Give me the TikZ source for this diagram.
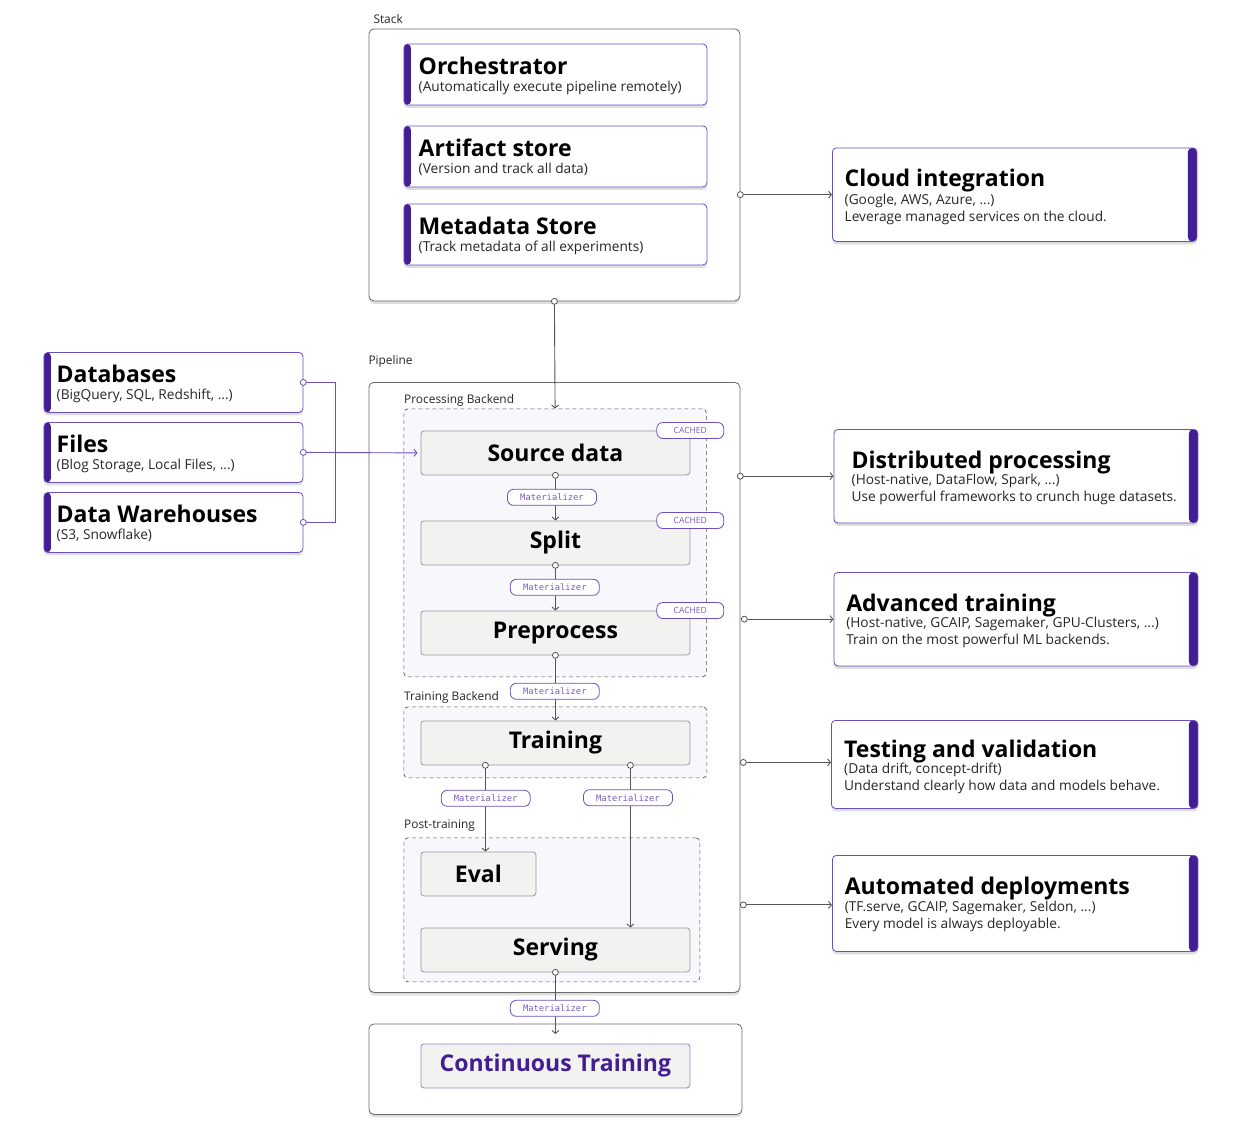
\documentclass[tikz,border=0pt]{standalone}
\usepackage{fontspec}
\setmainfont{Open Sans}
\newfontfamily\monof{DejaVu Sans Mono}
\usetikzlibrary{arrows.meta,shadows}
\definecolor{barc}{HTML}{431D93}
\definecolor{bordc}{HTML}{6B4FBF}
\definecolor{tagc}{HTML}{7A5CC0}
\definecolor{linec}{HTML}{555555}
\definecolor{stepfill}{HTML}{F2F2F1}
\definecolor{stepdraw}{HTML}{9A9A9A}
\definecolor{groupfill}{HTML}{F8F8FC}
\definecolor{outerc}{HTML}{6A6A6A}
\tikzset{
 shad/.style={drop shadow={shadow xshift=0pt,shadow yshift=-3pt,opacity=0.13,fill=black}},
 lcard/.style={draw=bordc, line width=0.8pt, fill=white, rounded corners=4pt, anchor=north west, inner sep=0pt, shad,
   path picture={\fill[barc] (path picture bounding box.north west) rectangle ([xshift=7pt]path picture bounding box.south west);}},
 rcard/.style={draw=bordc, line width=0.8pt, fill=white, rounded corners=4pt, anchor=north west, inner sep=0pt, shad,
   path picture={\fill[barc] ([xshift=-9pt]path picture bounding box.north east) rectangle (path picture bounding box.south east);}},
 outerbox/.style={draw=outerc, line width=0.8pt, fill=white, rounded corners=5pt, anchor=north west, inner sep=0pt, shad},
 group/.style={draw=linec, line width=0.7pt, dash pattern=on 4pt off 3pt, fill=groupfill, rounded corners=4pt, anchor=north west, inner sep=0pt},
 stepbox/.style={draw=stepdraw, line width=0.8pt, fill=stepfill, rounded corners=3pt, anchor=north west, inner sep=0pt, minimum height=44pt,
   font=\fontsize{23}{23}\selectfont\bfseries},
 pill/.style={draw=bordc, line width=0.8pt, fill=white, rounded corners=6pt, inner sep=0pt, minimum width=89pt, minimum height=16pt,
   font=\monof\fontsize{8.8}{9}\selectfont, text=tagc},
 tag/.style={pill, minimum width=67pt, font=\fontsize{8.5}{9}\selectfont},
 conn/.style={draw=linec, line width=0.9pt, -{Straight Barb[length=3pt,width=7pt]}},
 pconn/.style={draw=bordc, line width=0.9pt},
 dot/.style={circle, draw=linec, fill=white, inner sep=0pt, minimum size=6pt, line width=0.8pt},
 pdot/.style={dot, draw=bordc},
 grplabel/.style={anchor=base west, inner sep=0pt, font=\fontsize{11.9}{12}\selectfont, text=black!85},
 ttl/.style={anchor=base west, inner sep=0pt, font=\fontsize{23}{23}\selectfont\bfseries},
 sub/.style={anchor=base west, inner sep=0pt, font=\fontsize{13.7}{14}\selectfont, text=black!85},
}
\begin{document}
\begin{tikzpicture}[x=1pt,y=-1pt]
\useasboundingbox[fill=white] (0,0) rectangle (1241,1138);

% ---------- Stack ----------
\node[grplabel] (stacklbl) at (373.3,23.3) {Stack};
\node[outerbox, minimum width=371pt, minimum height=272pt] (stack) at (368.5,28.5) {};
\node[lcard, minimum width=303pt, minimum height=61pt] (orch) at (403.5,43.5) {};
\node[ttl] (orcht) at ([xshift=15pt,yshift=-30.5pt]orch.north west) {Orchestrator};
\node[sub] (orchs) at ([xshift=15pt,yshift=-47.5pt]orch.north west) {(Automatically execute pipeline remotely)};
\node[lcard, minimum width=303pt, minimum height=61pt] (art) at (403.5,125.5) {};
\node[ttl] (artt) at ([xshift=15pt,yshift=-30.5pt]art.north west) {Artifact store};
\node[sub] (arts) at ([xshift=15pt,yshift=-47.5pt]art.north west) {(Version and track all data)};
\node[lcard, minimum width=303pt, minimum height=61pt] (meta) at (403.5,203.5) {};
\node[ttl] (metat) at ([xshift=15pt,yshift=-30.5pt]meta.north west) {Metadata Store};
\node[sub] (metas) at ([xshift=15pt,yshift=-47.5pt]meta.north west) {(Track metadata of all experiments)};

% ---------- Left sources ----------
\node[lcard, minimum width=259pt, minimum height=60pt] (db) at (43.5,352) {};
\node[ttl] (dbt) at ([xshift=13pt,yshift=-30.5pt]db.north west) {Databases};
\node[sub] (dbs) at ([xshift=13pt,yshift=-47.5pt]db.north west) {(BigQuery, SQL, Redshift, ...)};
\node[lcard, minimum width=259pt, minimum height=60pt] (files) at (43.5,422) {};
\node[ttl] (filest) at ([xshift=13pt,yshift=-30.5pt]files.north west) {Files};
\node[sub] (filess) at ([xshift=13pt,yshift=-47.5pt]files.north west) {(Blog Storage, Local Files, ...)};
\node[lcard, minimum width=259pt, minimum height=60pt] (dw) at (43.5,492) {};
\node[ttl] (dwt) at ([xshift=13pt,yshift=-30.5pt]dw.north west) {Data Warehouses};
\node[sub] (dws) at ([xshift=13pt,yshift=-47.5pt]dw.north west) {(S3, Snowflake)};

% ---------- Pipeline ----------
\node[grplabel] (pipelbl) at (368.3,364.3) {Pipeline};
\node[outerbox, minimum width=371pt, minimum height=610pt] (pipe) at (368.5,382) {};
\node[group, minimum width=302.5pt, minimum height=268pt] (procg) at (403.5,408.5) {};
\node[grplabel] (proclbl) at ([xshift=0.5pt,yshift=5pt]procg.north west) {Processing Backend};
\node[group, minimum width=303pt, minimum height=71pt] (traing) at (403.5,706.5) {};
\node[grplabel] (trainlbl) at ([xshift=0.5pt,yshift=6.5pt]traing.north west) {Training Backend};
\node[group, minimum width=296pt, minimum height=144pt] (postg) at (403.5,837.5) {};
\node[grplabel] (postlbl) at ([xshift=0.5pt,yshift=9.2pt]postg.north west) {Post-training};

\node[stepbox, minimum width=269pt] (src) at (420.5,430.5) {Source data};
\node[stepbox, minimum width=269pt] (split) at (420.5,520.5) {Split};
\node[stepbox, minimum width=269pt] (pre) at (420.5,610.5) {Preprocess};
\node[stepbox, minimum width=269pt] (train) at (420.5,720.5) {Training};
\node[stepbox, minimum width=115pt] (eval) at (420.5,851.5) {Eval};
\node[stepbox, minimum width=269pt] (serv) at (420.5,927.5) {Serving};

% ---------- Continuous training ----------
\node[outerbox, minimum width=373pt, minimum height=90.5pt] (ct) at (368.5,1023.5) {};
\node[stepbox, draw=bordc!70, text=barc, minimum width=269pt] (cti) at (420.5,1043.5) {Continuous Training};

% ---------- Right cards ----------
\node[rcard, minimum width=364.5pt, minimum height=93.5pt] (cloud) at (832,147.5) {};
\node[ttl] (cloudt) at ([xshift=12.5pt,yshift=-39pt]cloud.north west) {Cloud integration};
\node[sub] (clouds1) at ([xshift=12.5pt,yshift=-56.5pt]cloud.north west) {(Google, AWS, Azure, ...)};
\node[sub] (clouds2) at ([xshift=12.5pt,yshift=-73.5pt]cloud.north west) {Leverage managed services on the cloud.};

\node[rcard, minimum width=364pt, minimum height=93.5pt] (dist) at (833.5,429) {};
\node[ttl] (distt) at ([xshift=18pt,yshift=-39pt]dist.north west) {Distributed processing};
\node[sub] (dists1) at ([xshift=18pt,yshift=-55.5pt]dist.north west) {(Host-native, DataFlow, Spark, ...)};
\node[sub] (dists2) at ([xshift=18pt,yshift=-72.5pt]dist.north west) {Use powerful frameworks to crunch huge datasets.};

\node[rcard, minimum width=364pt, minimum height=93.5pt] (adv) at (833.5,572) {};
\node[ttl] (advt) at ([xshift=12.6pt,yshift=-39pt]adv.north west) {Advanced training};
\node[sub] (advs1) at ([xshift=12.6pt,yshift=-55.5pt]adv.north west) {(Host-native, GCAIP, Sagemaker, GPU-Clusters, ...)};
\node[sub] (advs2) at ([xshift=12.6pt,yshift=-72pt]adv.north west) {Train on the most powerful ML backends.};

\node[rcard, minimum width=366.5pt, minimum height=88pt] (test) at (831,720) {};
\node[ttl] (testt) at ([xshift=13pt,yshift=-37pt]test.north west) {Testing and validation};
\node[sub] (tests1) at ([xshift=13pt,yshift=-53.5pt]test.north west) {(Data drift, concept-drift)};
\node[sub] (tests2) at ([xshift=13pt,yshift=-70pt]test.north west) {Understand clearly how data and models behave.};

\node[rcard, minimum width=365.5pt, minimum height=96pt] (auto) at (832,855) {};
\node[ttl] (autot) at ([xshift=12.6pt,yshift=-39.3pt]auto.north west) {Automated deployments};
\node[sub] (autos1) at ([xshift=12.6pt,yshift=-56.7pt]auto.north west) {(TF.serve, GCAIP, Sagemaker, Seldon, ...)};
\node[sub] (autos2) at ([xshift=12.6pt,yshift=-73.3pt]auto.north west) {Every model is always deployable.};

% ---------- Connectors ----------
\coordinate (jn) at (335.7,452);
\draw[pconn] (db.east) -| (jn);
\draw[pconn] (dw.east) -| (jn);
\draw[pconn, -{Straight Barb[length=3pt,width=7pt]}, shorten >=3pt] (files.east) -- (src.west);

\draw[conn] (stack.south) -- (procg.north);
\draw[conn] (src.south) -- (split.north);
\draw[conn] (split.south) -- (pre.north);
\draw[conn] (pre.south) -- (train.north);
\coordinate (tl) at ([xshift=-70pt]train.south);
\coordinate (tr) at ([xshift=75pt]train.south);
\draw[conn] (tl) -- (tl |- eval.north);
\draw[conn] (tr) -- (tr |- serv.north);
\coordinate (ctin) at ([yshift=-10.5pt]ct.north);
\draw[conn] (serv.south) -- (ctin);

\coordinate (pc) at (stack.east |- cloud.west);
\coordinate (pd) at (pipe.east |- dist.west);
\coordinate (pa) at ([xshift=4pt]pipe.east |- adv.west);
\coordinate (pt) at ([xshift=3pt,yshift=2pt]pipe.east |- test.west);
\coordinate (pau) at ([xshift=3pt,yshift=-1.5pt]pipe.east |- auto.west);
\draw[conn] (pc) -- (cloud.west);
\draw[conn] (pd) -- (dist.west);
\draw[conn] (pa) -- (adv.west);
\draw[conn] (pt) -- (pt -| test.west);
\draw[conn] (pau) -- (pau -| auto.west);

% ---------- Pills ----------
\node[pill] (m1) at (552,497.3) {Materializer};
\node[pill] (m2) at (554.8,587.3) {Materializer};
\node[pill] (m3) at (554.8,691.3) {Materializer};
\node[pill] (m4) at (485.7,798.3) {Materializer};
\node[pill] (m5) at (628,797.7) {Materializer};
\node[pill] (m6) at (554.8,1008.3) {Materializer};
\node[tag] (c1) at (src.north east) {CACHED};
\node[tag] (c2) at (split.north east) {CACHED};
\node[tag] (c3) at (pre.north east) {CACHED};

% ---------- Dots ----------
\node[pdot] (d1) at (db.east) {};
\node[pdot] (d2) at (files.east) {};
\node[pdot] (d3) at (dw.east) {};
\node[dot] (d4) at (stack.south) {};
\node[dot] (d5) at (src.south) {};
\node[dot] (d6) at (split.south) {};
\node[dot] (d7) at (pre.south) {};
\node[dot] (d8) at (tl) {};
\node[dot] (d9) at (tr) {};
\node[dot] (d10) at (serv.south) {};
\node[dot] (d11) at (pc) {};
\node[dot] (d12) at (pd) {};
\node[dot] (d13) at (pa) {};
\node[dot] (d14) at (pt) {};
\node[dot] (d15) at (pau) {};
\end{tikzpicture}
\end{document}
